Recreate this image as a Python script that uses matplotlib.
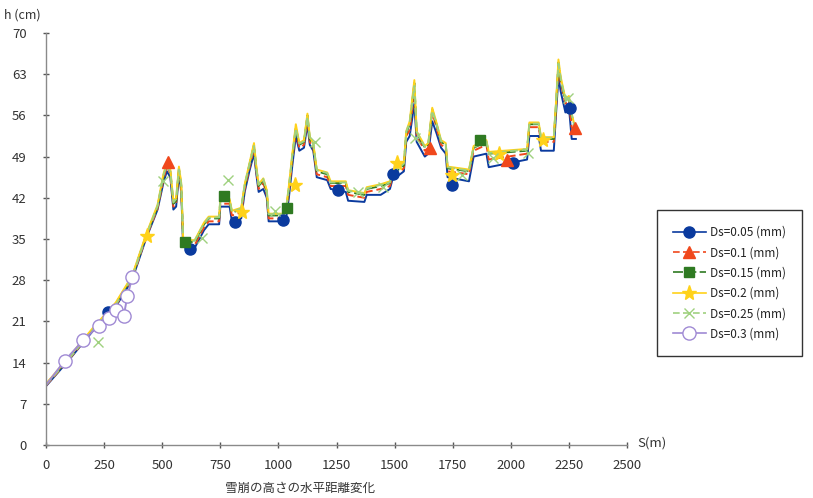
import matplotlib
matplotlib.use("Agg")
import matplotlib.pyplot as plt
from matplotlib.lines import Line2D

plt.rcParams['font.family'] = ['Noto Sans CJK JP', 'DejaVu Sans']

# ---------------- data ----------------
x_common = [0, 100, 200, 300, 370, 430, 480, 505, 520, 535,
            548, 560, 572, 582, 590, 600, 640, 660, 680, 700,
            745, 750, 790, 800, 840, 855, 875, 895, 905, 915,
            935, 950, 958, 1020, 1035, 1045, 1060, 1075, 1090, 1110,
            1125, 1135, 1150, 1165, 1210, 1225, 1290, 1300, 1370, 1380,
            1440, 1480, 1490, 1540, 1550, 1565, 1585, 1595, 1630, 1645,
            1662, 1680, 1700, 1720, 1728, 1820, 1840, 1895, 1905, 2070,
            2080, 2120, 2130, 2185, 2195, 2205, 2215, 2235, 2250, 2262,
            2280]

h_005 = [10.0, 14.5, 19.3, 23.5, 28.0, 35.0, 40.0, 44.5, 46.5, 45.5,
         40.0, 40.5, 46.0, 43.0, 34.0, 33.5, 33.5, 35.0, 36.5, 37.5,
         37.5, 40.5, 40.5, 38.0, 38.5, 43.0, 46.5, 49.5, 46.0, 43.0,
         43.5, 42.0, 38.0, 38.0, 39.0, 42.0, 47.5, 52.5, 50.0, 50.5,
         54.5, 51.0, 50.0, 45.5, 45.0, 43.5, 43.0, 41.5, 41.3, 42.5,
         42.5, 43.5, 45.0, 46.5, 51.5, 52.5, 58.0, 51.5, 49.0, 49.5,
         55.0, 53.0, 50.5, 49.5, 45.5, 44.8, 49.0, 49.5, 47.2, 48.5,
         52.5, 52.5, 50.0, 50.0, 56.5, 62.5, 60.0, 56.5, 57.5, 52.0,
         52.0]

h_010 = [10.1, 14.6, 19.4, 23.7, 28.2, 35.2, 40.2, 45.0, 47.5, 46.0,
         40.5, 41.0, 46.5, 43.5, 34.5, 34.0, 34.0, 35.5, 37.0, 38.0,
         38.0, 41.0, 41.0, 39.0, 39.5, 43.5, 47.0, 50.5, 46.5, 43.5,
         44.5, 42.5, 38.5, 38.5, 40.0, 43.0, 48.5, 53.5, 50.5, 51.0,
         55.5, 51.5, 50.5, 46.0, 45.5, 44.0, 44.0, 42.5, 42.0, 43.0,
         43.5, 44.0, 45.5, 47.0, 52.5, 53.5, 60.0, 52.5, 50.0, 50.5,
         56.5, 54.0, 51.0, 50.5, 46.5, 46.0, 50.0, 51.0, 48.5, 49.5,
         54.0, 54.0, 51.5, 51.5, 57.5, 64.0, 61.5, 58.0, 58.5, 54.0,
         53.5]

h_015 = [10.3, 14.8, 19.6, 24.0, 28.5, 35.5, 40.5, 45.5, 47.8, 46.5,
         41.0, 41.5, 47.0, 44.0, 35.0, 34.5, 34.5, 36.0, 37.5, 38.5,
         38.5, 41.5, 41.5, 39.5, 40.0, 44.0, 47.5, 51.0, 47.0, 44.0,
         45.0, 43.0, 39.0, 39.0, 40.5, 43.5, 49.0, 54.0, 51.0, 51.5,
         56.0, 52.0, 51.0, 46.5, 46.0, 44.5, 44.5, 43.0, 42.5, 43.5,
         44.0, 44.5, 46.0, 47.5, 53.0, 54.5, 61.5, 53.0, 50.5, 51.0,
         57.0, 54.5, 51.5, 51.0, 47.0, 46.5, 50.5, 51.5, 49.5, 50.0,
         54.5, 54.5, 52.0, 52.0, 58.0, 65.0, 62.0, 58.5, 59.0, 56.0,
         53.0]

h_020 = [10.4, 15.0, 19.8, 24.2, 28.7, 35.7, 40.8, 46.0, 48.0, 46.8,
         41.5, 42.0, 47.3, 44.5, 35.3, 34.8, 34.8, 36.3, 37.8, 38.8,
         38.8, 41.8, 41.8, 39.8, 40.3, 44.3, 47.8, 51.3, 47.3, 44.3,
         45.3, 43.3, 39.3, 39.3, 40.8, 44.0, 49.5, 54.5, 51.3, 51.8,
         56.3, 52.3, 51.3, 46.8, 46.3, 44.8, 44.8, 43.3, 42.8, 43.8,
         44.3, 44.8, 46.3, 48.0, 53.3, 55.0, 62.0, 53.3, 50.8, 51.3,
         57.3, 54.8, 51.8, 51.3, 47.3, 46.8, 50.8, 51.8, 49.8, 50.3,
         54.8, 54.8, 52.3, 52.3, 58.5, 65.5, 62.5, 58.8, 59.3, 56.3,
         53.3]

h_025 = [10.2, 14.7, 19.5, 23.8, 28.4, 35.4, 40.6, 45.8, 47.6, 46.3,
         41.2, 41.8, 46.8, 44.2, 35.2, 34.7, 34.7, 36.2, 37.6, 38.6,
         38.7, 41.7, 41.6, 39.6, 40.2, 44.2, 47.6, 50.8, 46.8, 44.2,
         45.2, 43.2, 39.2, 39.2, 40.6, 43.8, 49.2, 53.8, 51.2, 51.6,
         55.8, 52.2, 51.2, 46.7, 46.2, 44.6, 44.6, 43.2, 42.7, 43.6,
         44.2, 44.6, 46.2, 47.8, 53.2, 54.8, 61.0, 53.2, 50.6, 51.2,
         56.8, 54.6, 51.6, 51.2, 47.2, 46.6, 50.6, 51.6, 49.6, 50.2,
         54.6, 54.6, 52.2, 52.2, 58.2, 64.8, 62.2, 58.6, 59.2, 56.2,
         53.2]

x_030 = [0, 80, 160, 228, 272, 300, 335, 350, 372, 380]
h_030 = [10.2, 14.3, 17.8, 20.3, 21.5, 23.0, 22.0, 25.3, 28.6, 29.5]

# sparse marker positions (as drawn on the chart)
mx_005 = [267, 620, 813, 1020, 1256, 1493, 1747, 2010, 2255]
my_005 = [22.6, 33.3, 37.9, 38.2, 43.3, 46.0, 44.2, 47.9, 57.3]
mx_010 = [525, 1652, 1984, 2276]
my_010 = [48.0, 50.5, 48.4, 53.8]
mx_015 = [600, 766, 1037, 1867]
my_015 = [34.5, 42.3, 40.3, 51.8]
mx_020 = [433, 843, 1071, 1510, 1745, 1950, 2139]
my_020 = [35.5, 39.6, 44.2, 47.9, 45.9, 49.5, 51.8]
mx_025 = [224, 503, 671, 783, 985, 1157, 1342, 1450, 1588, 1790, 1923, 2074, 2246]
my_025 = [17.5, 44.8, 35.2, 45.0, 39.8, 51.5, 43.0, 43.8, 52.2, 45.9, 48.8, 49.6, 59.0]
mx_030 = x_030[1:9]
my_030 = h_030[1:9]

labels = ['Ds=0.05 (mm)', 'Ds=0.1 (mm)', 'Ds=0.15 (mm)',
          'Ds=0.2 (mm)', 'Ds=0.25 (mm)', 'Ds=0.3 (mm)']
x_ticks = [0, 250, 500, 750, 1000, 1250, 1500, 1750, 2000, 2250, 2500]
y_ticks = [0, 7, 14, 21, 28, 35, 42, 49, 56, 63, 70]

# ---------------- styles ----------------
c_blue = '#0a3a9e'
c_red = '#f0481c'
c_green = '#2f7a22'
c_yellow = '#ffd21a'
c_lgreen = '#9fd17f'
c_purple = '#a08ad4'

fig = plt.figure(figsize=(8.13, 4.98), dpi=100)
ax = fig.add_axes([46 / 813, 1 - 445 / 498, (627 - 46) / 813, (445 - 33) / 498])

series = [
    (x_common, h_005, mx_005, my_005, c_blue, '-', 'o', c_blue, 8),
    (x_common, h_010, mx_010, my_010, c_red, (0, (4, 2)), '^', c_red, 8.5),
    (x_common, h_015, mx_015, my_015, c_green, (0, (6, 2)), 's', c_green, 7.5),
    (x_common, h_020, mx_020, my_020, c_yellow, '-', '*', c_yellow, 11),
    (x_common, h_025, mx_025, my_025, c_lgreen, (0, (4, 2)), 'x', c_lgreen, 7.5),
    (x_030, h_030, mx_030, my_030, c_purple, '-', 'o', 'white', 9.5),
]

handles = []
for i, (xs, ys, mxs, mys, col, ls, mk, fc, ms) in enumerate(series):
    ax.plot(xs, ys, color=col, linestyle=ls, linewidth=1.4, zorder=2 + i * 0.1)
    ax.plot(mxs, mys, linestyle='none', marker=mk, markersize=ms,
            markerfacecolor=fc, markeredgecolor=col, markeredgewidth=1.0,
            zorder=3 + i * 0.1)
    handles.append(Line2D([0], [0], color=col, linestyle=ls, linewidth=1.2,
                          marker=mk, markersize=ms, markerfacecolor=fc,
                          markeredgecolor=col, markeredgewidth=1.0))

ax.set_xlim(0, 2500)
ax.set_ylim(0, 70)
ax.set_xticks(x_ticks)
ax.set_yticks(y_ticks)
for s in ['top', 'right']:
    ax.spines[s].set_visible(False)
for s in ['left', 'bottom']:
    ax.spines[s].set_color('#8a8a8a')
    ax.spines[s].set_linewidth(1.0)
ax.tick_params(axis='both', direction='inout', length=4, width=1,
               color='#555555', labelsize=9.5, labelcolor='#333333')
ax.tick_params(axis='x', pad=8)
ax.tick_params(axis='y', pad=12)

fig.text(4 / 813, 1 - 15 / 498, 'h (cm)', fontsize=9, color='#333333',
         ha='left', va='center')
fig.text(637 / 813, 1 - 443 / 498, 'S(m)', fontsize=9.5, color='#333333',
         ha='left', va='center')
fig.text(225 / 813, 1 - 488 / 498, '雪崩の高さの水平距離変化', fontsize=9,
         color='#333333', ha='left', va='center')

leg = fig.legend(handles, labels, loc='upper left',
                 bbox_to_anchor=(657 / 813, 1 - 210 / 498),
                 fontsize=8.5, frameon=True, fancybox=False, edgecolor='black',
                 handlelength=2.8, labelspacing=0.62, borderpad=1.35,
                 handletextpad=0.35, borderaxespad=0)
leg.get_frame().set_linewidth(1.0)
for t in leg.get_texts():
    t.set_color('#222222')

fig.savefig('out.png', dpi=100)
